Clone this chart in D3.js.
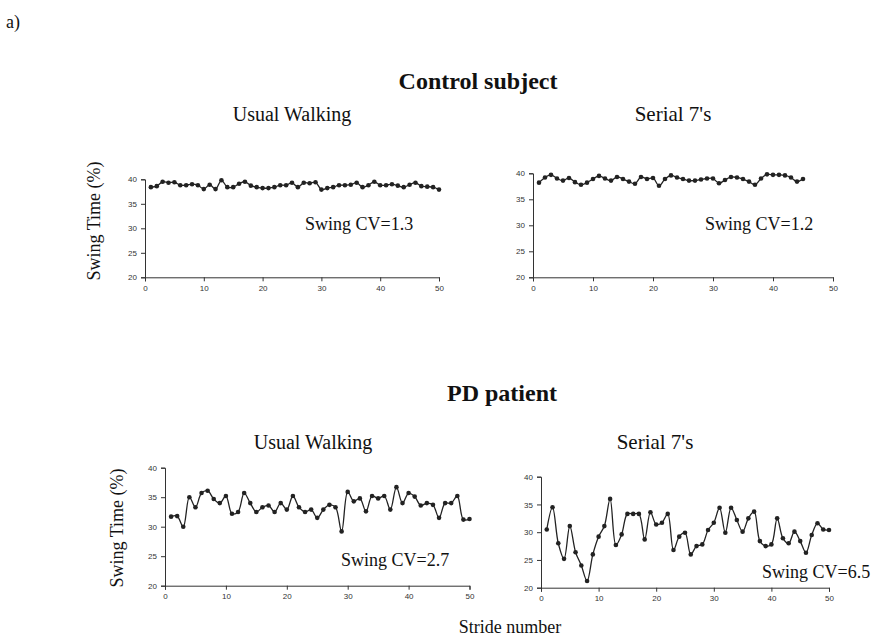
<!DOCTYPE html>
<html>
<head>
<meta charset="utf-8">
<script src="https://cdn.jsdelivr.net/npm/d3@7"></script>
<style>
  html, body { margin: 0; padding: 0; background: #fff; }
  svg { display: block; }
</style>
</head>
<body>
<svg id="chart" width="889" height="640"></svg>
<script>
// ---------- DATA ----------
const controlUsual = [38.4, 38.6, 39.5, 39.3, 39.4, 38.8, 38.8, 39.0, 38.8, 38.0,
  38.9, 38.0, 39.8, 38.4, 38.4, 39.1, 39.5, 38.7, 38.4, 38.2,
  38.2, 38.4, 38.8, 38.8, 39.3, 38.4, 39.3, 39.2, 39.4, 37.9,
  38.2, 38.4, 38.8, 38.8, 38.9, 39.3, 38.4, 38.8, 39.5, 38.8,
  38.8, 39.0, 38.7, 38.4, 38.9, 39.3, 38.6, 38.5, 38.4, 37.9];
const controlSerial7 = [38.2, 39.2, 39.7, 39.0, 38.6, 39.1, 38.3, 37.8, 38.2, 38.9,
  39.5, 39.0, 38.6, 39.3, 38.9, 38.4, 38.0, 39.3, 38.9, 39.1,
  37.6, 38.9, 39.6, 39.2, 38.9, 38.6, 38.6, 38.8, 39.0, 39.0,
  38.1, 38.7, 39.3, 39.2, 38.9, 38.4, 37.8, 39.0, 39.8, 39.7,
  39.7, 39.6, 39.2, 38.4, 38.9];
const pdUsual = [31.7, 31.8, 30.0, 35.0, 33.3, 35.7, 36.1, 34.7, 34.0, 35.2,
  32.2, 32.5, 35.7, 34.0, 32.5, 33.3, 33.6, 32.5, 34.0, 32.9,
  35.2, 33.3, 32.5, 32.9, 31.5, 32.9, 33.7, 33.3, 29.2, 35.9,
  34.3, 34.8, 32.6, 35.2, 34.8, 35.2, 32.9, 36.7, 34.0, 35.7,
  35.1, 33.6, 34.0, 33.7, 31.5, 34.0, 34.0, 35.2, 31.2, 31.3];
const pdSerial7 = [30.5, 34.5, 28.0, 25.2, 31.1, 26.4, 24.0, 21.2, 26.0, 29.2,
  31.1, 36.0, 27.7, 29.6, 33.3, 33.3, 33.3, 28.7, 33.6, 31.4,
  31.7, 33.3, 26.8, 29.2, 29.9, 26.0, 27.5, 27.8, 30.4, 31.7,
  34.4, 29.9, 34.4, 32.2, 30.1, 32.5, 33.7, 28.4, 27.5, 27.8,
  32.5, 28.9, 28.0, 30.1, 28.4, 26.3, 29.5, 31.6, 30.5, 30.4];

const cvLabels = ["Swing CV=1.3", "Swing CV=1.2", "Swing CV=2.7", "Swing CV=6.5"];
const subTitles = ["Usual Walking", "Serial 7's"];
const groupTitles = ["Control subject", "PD patient"];
const xTicks = [0, 10, 20, 30, 40, 50];
const yTicks = [20, 25, 30, 35, 40];
const yDomain = [20, 40];
const xDomain = [0, 50];

// ---------- LAYOUT ----------
const panels = [
  { data: controlUsual,   x0: 145, x1: 439,   yTop: 179.3, yBot: 277.3, cv: cvLabels[0], cvX: 305, cvY: 230 },
  { data: controlSerial7, x0: 533, x1: 833,   yTop: 173.3, yBot: 277.3, cv: cvLabels[1], cvX: 705, cvY: 230 },
  { data: pdUsual,        x0: 165, x1: 469.5, yTop: 467.7, yBot: 585.7, cv: cvLabels[2], cvX: 341, cvY: 566 },
  { data: pdSerial7,      x0: 541, x1: 829,   yTop: 476.7, yBot: 587.7, cv: cvLabels[3], cvX: 762, cvY: 578 }
];

const svg = d3.select("#chart");
const serif = "'Liberation Serif', 'Times New Roman', serif";
const sans = "'Liberation Sans', Arial, sans-serif";
const ink = "#222";

panels.forEach(p => {
  const x = d3.scaleLinear().domain(xDomain).range([p.x0, p.x1]);
  const y = d3.scaleLinear().domain(yDomain).range([p.yBot, p.yTop]);

  const gx = svg.append("g")
    .attr("transform", `translate(0,${p.yBot})`)
    .call(d3.axisBottom(x).tickValues(xTicks).tickSize(4).tickPadding(4));
  const gy = svg.append("g")
    .attr("transform", `translate(${p.x0},0)`)
    .call(d3.axisLeft(y).tickValues(yTicks).tickSize(4).tickPadding(4));
  [gx, gy].forEach(g => {
    g.selectAll("path, line").attr("stroke", "#333").attr("stroke-width", 1);
    g.selectAll("text").attr("font-family", sans).attr("font-size", 8).attr("fill", "#333");
  });

  const pts = p.data.map((v, i) => [i + 1, v]);
  svg.append("path")
    .datum(pts)
    .attr("fill", "none")
    .attr("stroke", ink)
    .attr("stroke-width", 1.3)
    .attr("d", d3.line().x(d => x(d[0])).y(d => y(d[1])).curve(d3.curveCatmullRom.alpha(0.5)));

  svg.append("g").selectAll("circle")
    .data(pts)
    .join("circle")
    .attr("cx", d => x(d[0]))
    .attr("cy", d => y(d[1]))
    .attr("r", 2.3)
    .attr("fill", ink);

  svg.append("text")
    .attr("x", p.cvX).attr("y", p.cvY)
    .attr("font-family", serif).attr("font-size", 18).attr("fill", "#111")
    .text(p.cv);
});

// ---------- TEXT ----------
const T = (x, y, s, size, opts = {}) => svg.append("text")
  .attr("x", x).attr("y", y)
  .attr("text-anchor", opts.anchor || "middle")
  .attr("font-family", serif)
  .attr("font-size", size)
  .attr("font-weight", opts.bold ? "bold" : "normal")
  .attr("fill", "#111")
  .attr("transform", opts.rotate ? `rotate(-90,${x},${y})` : null)
  .text(s);

T(6, 28, "a)", 18, { anchor: "start" });
T(478, 89, groupTitles[0], 24, { bold: true });
T(292, 121, subTitles[0], 20);
T(673, 121, subTitles[1], 21);
T(100, 221, "Swing Time (%)", 18, { rotate: true });
T(502, 401, groupTitles[1], 24, { bold: true });
T(313, 449, subTitles[0], 20);
T(655, 449, subTitles[1], 21);
T(123, 528, "Swing Time (%)", 18, { rotate: true });
T(510, 633, "Stride number", 18);
</script>
</body>
</html>
